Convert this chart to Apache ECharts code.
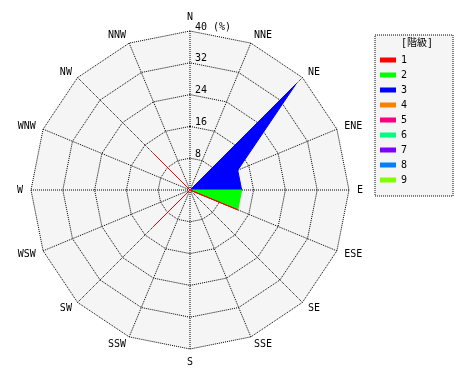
<!DOCTYPE html>
<html><head><meta charset="utf-8">
<script src="https://cdn.jsdelivr.net/npm/echarts@6/dist/echarts.min.js"></script>
<style>html,body{margin:0;padding:0;background:#fff}#c{width:470px;height:380px}</style>
</head><body><div id="c"></div>
<script>
const directions = ['N','NNE','NE','ENE','E','ESE','SE','SSE','S','SSW','SW','WSW','W','WNW','NW','NNW'];
const levelNames = ['1','2','3','4','5','6','7','8','9'];
const levelColors = ['#ff0000','#00ff00','#0000ff','#ff8000','#ff0080','#00ff80','#8000ff','#0080ff','#80ff00'];
//                 N  NNE NE   ENE E   ESE SE SSE S SSW SW  WSW W WNW NW  NNW
const level1 = [0, 0, 0,    0,  0,  13, 0, 0,  0, 0,  13, 0,  0, 0,  13, 0];
const level2 = [0, 0, 0,    0,  13, 13, 0, 0,  0, 0,  0,  0,  0, 0,  0,  0];
const level3 = [0, 0, 37.7, 13, 13, 0,  0, 0,  0, 0,  0,  0,  0, 0,  0,  0];
const level4 = [0,0,0,0,0,0,0,0,0,0,0,0,0,0,0,0];
const level5 = [0,0,0,0,0,0,0,0,0,0,0,0,0,0,0,0];
const level6 = [0,0,0,0,0,0,0,0,0,0,0,0,0,0,0,0];
const level7 = [0,0,0,0,0,0,0,0,0,0,0,0,0,0,0,0];
const level8 = [0,0,0,0,0,0,0,0,0,0,0,0,0,0,0,0];
const level9 = [0,0,0,0,0,0,0,0,0,0,0,0,0,0,0,0];
const levels = [level1, level2, level3, level4, level5, level6, level7, level8, level9];
const ringTicks = [0, 8, 16, 24, 32, 40];
const axisMax = 40;
const unitLabel = '(%)';
const legendTitle = '[階級]';

const FONT = '"DejaVu Sans Mono", "Noto Sans CJK JP", monospace';
const order = [0].concat(directions.map((d, i) => i).slice(1).reverse());
const interval = ringTicks[1] - ringTicks[0];
const dotted = { color: '#000', width: 1, type: [1, 1] };

const indicator = order.map((i, k) => {
  const ind = { name: directions[i], min: ringTicks[0], max: axisMax };
  if (k === 0) {
    ind.axisLabel = {
      show: true, color: '#000', fontSize: 10, fontFamily: FONT,
      margin: -5, align: 'left', verticalAlign: 'bottom', lineHeight: 8,
      formatter: v => v === 0 ? '' : (v === axisMax ? v + ' ' + unitLabel : String(v))
    };
  }
  return ind;
});

const data = [];
for (let l = levels.length - 1; l >= 0; l--) {
  const c = levelColors[l];
  data.push({
    name: levelNames[l],
    value: order.map(i => levels[l][i]),
    symbol: 'none',
    itemStyle: { color: c },
    lineStyle: { color: c, width: 1, opacity: 1 },
    areaStyle: { color: c, opacity: 1 }
  });
}

const chart = echarts.init(document.getElementById('c'), null, { renderer: 'canvas' });
chart.setOption({
  animation: false,
  backgroundColor: '#fff',
  title: {
    text: legendTitle, left: 401, top: 38, padding: 0,
    textStyle: { fontSize: 10, fontWeight: 'normal', color: '#000', fontFamily: FONT }
  },
  legend: {
    orient: 'vertical', left: 375, top: 35,
    data: levelNames,
    icon: 'rect', itemWidth: 16, itemHeight: 5, itemGap: 3,
    padding: [19, 46, 10, 5],
    backgroundColor: '#f5f5f5', borderColor: '#000', borderWidth: 1, borderType: [1, 1],
    textStyle: { fontSize: 10, color: '#000', fontFamily: FONT, lineHeight: 12 },
    selectedMode: false
  },
  // polar system used only for the dotted compass spokes
  polar: { center: [190, 190], radius: 159 },
  angleAxis: {
    type: 'category', data: directions, startAngle: 90, clockwise: true, boundaryGap: false,
    axisLine: { show: false }, axisTick: { show: false }, axisLabel: { show: false },
    splitLine: { show: true, lineStyle: dotted }, z: 1
  },
  radiusAxis: { min: 0, max: axisMax, show: false, splitLine: { show: false }, z: 1 },
  radar: {
    z: 0,
    center: [190, 190], radius: 159, startAngle: 90, shape: 'polygon',
    splitNumber: Math.round(axisMax / interval),
    indicator: indicator,
    axisName: { color: '#000', fontSize: 10, fontFamily: FONT },
    nameGap: 8,
    axisLabel: { show: false },
    axisTick: { show: false },
    axisLine: { show: false },
    splitLine: { show: true, lineStyle: dotted },
    splitArea: { show: true, areaStyle: { color: ['#f5f5f5'] } }
  },
  series: [{ type: 'radar', data: data, silent: true, z: 2 }]
});
</script></body></html>
